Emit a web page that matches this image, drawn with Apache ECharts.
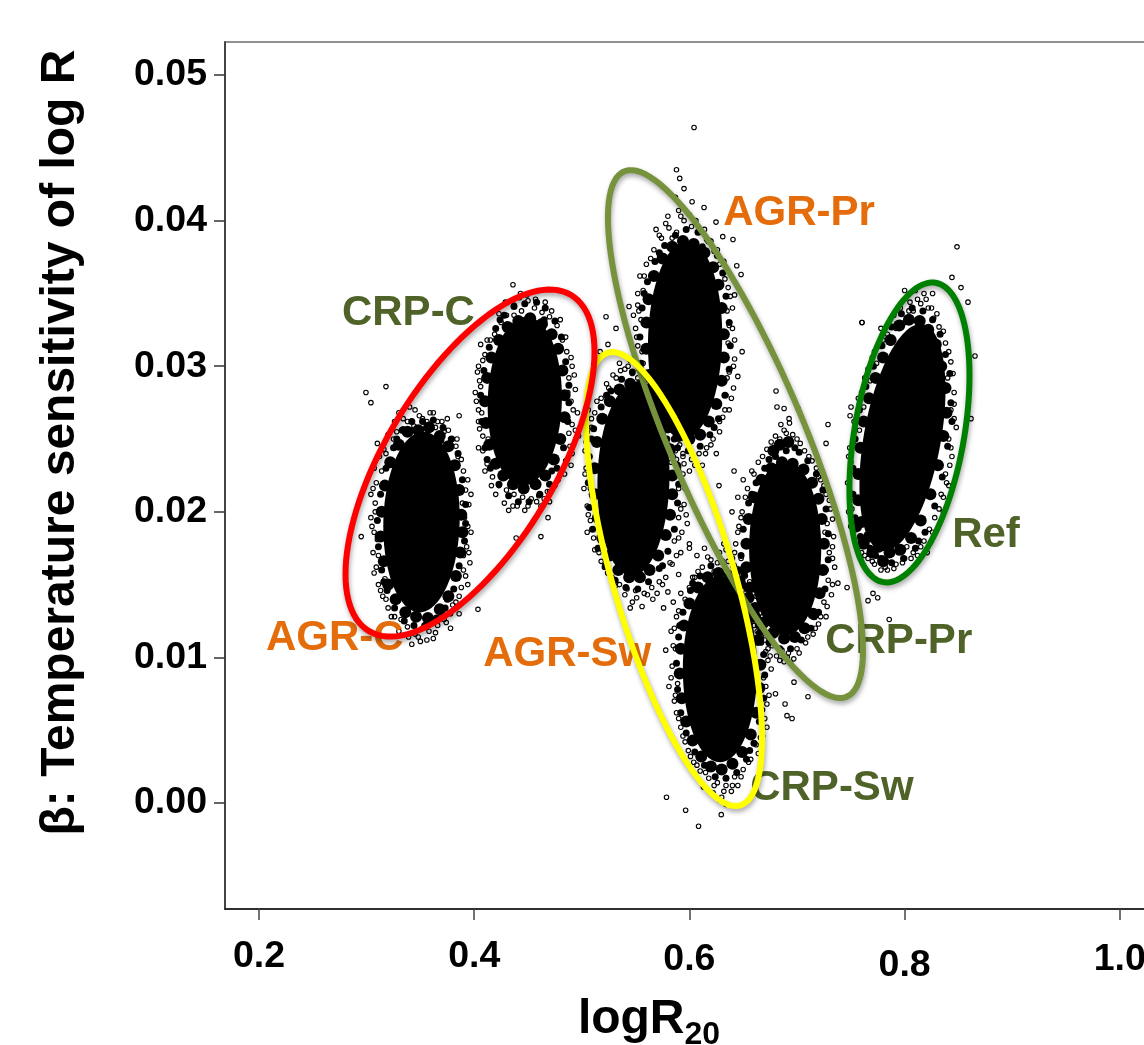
<!DOCTYPE html>
<html><head><meta charset="utf-8">
<style>html,body{margin:0;padding:0;background:#fff;overflow:hidden}#c{width:1144px;height:1045px}</style>
<script src="https://cdn.jsdelivr.net/npm/echarts@6/dist/echarts.min.js"></script>
</head><body><div id="c"></div>
<script>
var xTicks=[0.2,0.4,0.6,0.8,1.0];
var yTicks=[0,0.01,0.02,0.03,0.04,0.05];
var yTickLabels=['0.00','0.01','0.02','0.03','0.04','0.05'];
var clusterNames=['AGR-C','CRP-C','AGR-Pr','AGR-Sw','CRP-Pr','CRP-Sw','Ref'];
var clusterCores=[[.351,.0193,.0355,.0062,.05],[.447,.0276,.0345,.0058,.05],[.596,.0318,.0345,.0068,.05],[.548,.0222,.0335,.0066,.05],[.689,.0175,.0335,.0060,.0],[.6284,.0092,.0345,.0064,.0],[.798,.0251,.0400,.0078,.42]];
var agrCBand=[[.388,.0198],[.386,.0215],[.382,.0232],[.376,.0245],[.368,.0252],[.358,.0258],[.348,.0256],[.338,.0255],[.330,.0246],[.322,.0234],[.317,.0218],[.314,.0200],[.313,.0183],[.316,.0166],[.320,.0150],[.327,.0140],[.336,.0131],[.346,.0128],[.357,.0127],[.368,.0133],[.376,.0142],[.383,.0156],[.387,.0172],[.389,.0186]];
var agrCMid=[[.392,.0205],[.389,.0222],[.385,.0240],[.379,.0250],[.371,.0258],[.362,.0263],[.352,.0262],[.342,.0262],[.333,.0256],[.325,.0244],[.318,.0230],[.313,.0212],[.310,.0194],[.311,.0176],[.314,.0160],[.319,.0146],[.326,.0134],[.335,.0125],[.344,.0122],[.354,.0122],[.365,.0127],[.373,.0134],[.381,.0147],[.386,.0163],[.391,.0180],[.328,.0250],[.375,.0140],[.392,.0192],[.316,.0152],[.369,.0249]];
var agrCDots=[[.330,.0268],[.338,.0262],[.345,.0270],[.352,.0264],[.359,.0268],[.366,.0262],[.340,.0272],[.326,.0262],[.334,.0257],[.344,.0259],[.356,.0262],[.364,.0258],[.372,.0255],[.320,.0253],[.325,.0250],[.378,.0250],[.383,.0245],[.316,.0243],[.385,.0238],[.390,.0228],[.392,.0215],[.395,.0205],[.391,.0196],[.397,.0186],[.393,.0176],[.396,.0165],[.390,.0160],[.394,.0150],[.388,.0148],[.383,.0138],[.378,.0130],[.386,.0130],[.372,.0126],[.366,.0122],[.358,.0118],[.352,.0120],[.345,.0116],[.338,.0121],[.332,.0126],[.326,.0128],[.362,.0113],[.350,.0111],[.342,.0109],[.378,.0120],[.320,.0134],[.315,.0142],[.311,.0150],[.317,.0154],[.309,.0162],[.306,.0172],[.310,.0181],[.305,.0190],[.308,.0200],[.304,.0212],[.309,.0220],[.307,.0230],[.312,.0238],[.310,.0247],[.304,.0275],[.2994,.0282],[.318,.0286],[.295,.0183],[.4035,.0133],[.386,.0266],[.375,.0264],[.334,.0264],[.349,.0266],[.362,.0268],[.328,.0255],[.342,.0256],[.370,.0262],[.376,.0256],[.318,.0240],[.384,.0250],[.388,.0236],[.314,.0228],[.394,.0222],[.306,.0216],[.397,.0212],[.308,.0206],[.389,.0206],[.304,.0196],[.394,.0190],[.307,.0186],[.395,.0172],[.311,.0170],[.390,.0170],[.307,.0158],[.392,.0156],[.313,.0146],[.386,.0142],[.318,.0140],[.380,.0136],[.323,.0128],[.370,.0128],[.330,.0118],[.339,.0114],[.348,.0114],[.356,.0112],[.364,.0117],[.374,.0124]];
var crpCBand=[[.484,.0280],[.482,.0297],[.478,.0312],[.472,.0322],[.463,.0329],[.452,.0333],[.441,.0331],[.431,.0327],[.423,.0318],[.416,.0306],[.412,.0292],[.410,.0276],[.411,.0261],[.414,.0246],[.420,.0233],[.427,.0225],[.436,.0219],[.446,.0216],[.457,.0219],[.466,.0225],[.474,.0236],[.480,.0250],[.484,.0265]];
var crpCMid=[[.488,.0287],[.485,.0303],[.481,.0320],[.475,.0331],[.466,.0340],[.458,.0344],[.447,.0343],[.437,.0341],[.428,.0335],[.420,.0326],[.414,.0313],[.409,.0297],[.406,.0280],[.407,.0262],[.410,.0244],[.415,.0230],[.423,.0219],[.432,.0211],[.441,.0207],[.451,.0207],[.461,.0212],[.470,.0219],[.477,.0230],[.483,.0244],[.487,.0262],[.424,.0332],[.472,.0228],[.488,.0275],[.412,.0236],[.465,.0332]];
var crpCDots=[[.430,.0335],[.437,.0342],[.444,.0338],[.450,.0345],[.456,.0340],[.463,.0337],[.470,.0334],[.425,.0330],[.449,.0349],[.442,.0347],[.477,.0328],[.419,.0322],[.482,.0318],[.486,.0310],[.491,.0300],[.488,.0292],[.494,.0284],[.490,.0276],[.496,.0268],[.491,.0260],[.497,.0252],[.489,.0245],[.485,.0235],[.490,.0232],[.480,.0226],[.475,.0218],[.468,.0214],[.460,.0211],[.453,.0209],[.445,.0210],[.437,.0212],[.430,.0215],[.423,.0218],[.462,.0204],[.447,.0201],[.436,.0204],[.470,.0207],[.417,.0224],[.412,.0233],[.408,.0242],[.413,.0250],[.405,.0257],[.407,.0268],[.402,.0276],[.406,.0286],[.403,.0296],[.408,.0304],[.406,.0315],[.412,.0318],[.436,.0356],[.404,.0262],[.4686,.0196],[.462,.0183],[.439,.0182],[.429,.0344],[.443,.0350],[.457,.0346],[.423,.0336],[.437,.0335],[.466,.0344],[.472,.0338],[.415,.0318],[.480,.0332],[.485,.0320],[.410,.0308],[.490,.0306],[.404,.0300],[.493,.0294],[.405,.0290],[.487,.0282],[.401,.0282],[.492,.0270],[.404,.0270],[.494,.0256],[.408,.0252],[.488,.0254],[.404,.0244],[.491,.0240],[.410,.0228],[.484,.0226],[.416,.0218],[.478,.0222],[.420,.0212],[.470,.0214],[.428,.0206],[.440,.0204],[.450,.0204],[.458,.0207],[.432,.0201],[.465,.0209]];
var agrPrBand=[[.632,.0322],[.630,.0340],[.627,.0356],[.622,.0368],[.614,.0378],[.604,.0384],[.594,.0386],[.584,.0382],[.575,.0374],[.567,.0362],[.562,.0346],[.560,.0330],[.560,.0312],[.562,.0294],[.566,.0280],[.572,.0268],[.580,.0258],[.590,.0252],[.600,.0250],[.610,.0253],[.618,.0262],[.625,.0274],[.630,.0290],[.632,.0306]];
var agrPrMid=[[.637,.0330],[.634,.0348],[.631,.0364],[.626,.0376],[.618,.0386],[.608,.0392],[.597,.0394],[.587,.0390],[.577,.0383],[.568,.0372],[.561,.0358],[.556,.0340],[.554,.0320],[.555,.0302],[.558,.0284],[.563,.0270],[.570,.0258],[.579,.0250],[.589,.0244],[.599,.0242],[.610,.0245],[.619,.0253],[.627,.0264],[.633,.0280],[.637,.0298],[.638,.0314],[.572,.0378],[.623,.0258],[.558,.0350],[.612,.0382]];
var agrPrDots=[[.574,.0388],[.581,.0395],[.588,.0392],[.595,.0400],[.602,.0396],[.609,.0392],[.616,.0387],[.580,.0403],[.590,.0407],[.600,.0404],[.567,.0380],[.623,.0379],[.560,.0370],[.628,.0370],[.569,.0394],[.633,.0360],[.638,.0348],[.635,.0338],[.640,.0326],[.636,.0316],[.642,.0305],[.637,.0296],[.641,.0285],[.634,.0280],[.637,.0270],[.631,.0265],[.628,.0255],[.622,.0250],[.616,.0244],[.609,.0240],[.602,.0236],[.594,.0238],[.587,.0242],[.580,.0246],[.612,.0232],[.600,.0228],[.590,.0231],[.625,.0240],[.573,.0250],[.567,.0258],[.561,.0266],[.557,.0278],[.560,.0288],[.553,.0298],[.556,.0310],[.551,.0320],[.555,.0332],[.552,.0342],[.557,.0352],[.554,.0362],[.548,.0335],[.6043,.0464],[.588,.0435],[.591,.0429],[.595,.0422],[.587,.0416],[.6025,.0413],[.6136,.0409],[.6247,.0399],[.631,.0389],[.6405,.0387],[.644,.0369],[.648,.0363],[.642,.0349],[.649,.0310],[.645,.0293],[.578,.0398],[.592,.0403],[.606,.0400],[.572,.0390],[.584,.0388],[.614,.0394],[.620,.0386],[.564,.0374],[.626,.0380],[.632,.0372],[.558,.0362],[.636,.0354],[.552,.0350],[.640,.0340],[.553,.0338],[.637,.0328],[.550,.0326],[.642,.0318],[.552,.0314],[.641,.0300],[.557,.0302],[.635,.0292],[.552,.0292],[.639,.0278],[.556,.0272],[.633,.0270],[.563,.0262],[.628,.0262],[.569,.0252],[.620,.0246],[.577,.0242],[.585,.0238],[.595,.0233],[.605,.0232],[.615,.0240],[.583,.0234]];
var agrSwBand=[[.584,.0225],[.582,.0243],[.579,.0259],[.573,.0271],[.565,.0281],[.555,.0287],[.545,.0288],[.535,.0284],[.526,.0276],[.519,.0264],[.514,.0248],[.512,.0230],[.512,.0212],[.515,.0196],[.519,.0182],[.526,.0170],[.534,.0160],[.544,.0155],[.554,.0155],[.563,.0160],[.571,.0170],[.578,.0184],[.582,.0198],[.584,.0212]];
var agrSwMid=[[.589,.0232],[.586,.0250],[.583,.0266],[.577,.0277],[.568,.0288],[.558,.0294],[.547,.0296],[.537,.0291],[.527,.0283],[.518,.0272],[.511,.0257],[.507,.0238],[.506,.0220],[.507,.0203],[.510,.0188],[.515,.0175],[.522,.0163],[.531,.0153],[.541,.0148],[.552,.0147],[.562,.0152],[.572,.0161],[.580,.0173],[.586,.0188],[.589,.0206],[.590,.0219],[.523,.0280],[.575,.0163],[.509,.0250],[.563,.0286]];
var agrSwDots=[[.525,.0285],[.532,.0292],[.540,.0298],[.547,.0295],[.555,.0300],[.562,.0292],[.570,.0286],[.535,.0302],[.545,.0304],[.518,.0278],[.577,.0278],[.512,.0268],[.583,.0268],[.587,.0258],[.591,.0246],[.588,.0236],[.594,.0226],[.590,.0216],[.595,.0205],[.590,.0196],[.593,.0186],[.586,.0180],[.588,.0170],[.582,.0165],[.578,.0155],[.600,.0175],[.598,.0192],[.572,.0152],[.565,.0148],[.558,.0144],[.550,.0146],[.542,.0147],[.535,.0150],[.528,.0155],[.566,.0140],[.556,.0135],[.547,.0138],[.580,.0145],[.590,.0157],[.576,.0134],[.521,.0162],[.516,.0172],[.511,.0182],[.508,.0194],[.505,.0204],[.508,.0216],[.503,.0226],[.507,.0238],[.504,.0248],[.509,.0258],[.506,.0270],[.5225,.0334],[.5318,.0326],[.5243,.0315],[.517,.0310],[.5439,.0341],[.6415,.0228],[.6396,.0200],[.6275,.0218],[.529,.0294],[.543,.0300],[.557,.0296],[.523,.0288],[.536,.0297],[.566,.0291],[.574,.0284],[.514,.0276],[.581,.0276],[.586,.0264],[.509,.0264],[.592,.0252],[.505,.0255],[.594,.0240],[.503,.0242],[.590,.0228],[.504,.0230],[.596,.0216],[.502,.0216],[.592,.0202],[.506,.0198],[.597,.0198],[.505,.0186],[.590,.0182],[.512,.0174],[.592,.0172],[.518,.0166],[.584,.0164],[.524,.0158],[.575,.0150],[.531,.0149],[.540,.0143],[.551,.0141],[.561,.0143],[.570,.0144],[.545,.0134]];
var crpPrBand=[[.725,.0178],[.723,.0195],[.720,.0209],[.714,.0220],[.706,.0229],[.696,.0233],[.686,.0234],[.676,.0230],[.667,.0222],[.660,.0210],[.655,.0195],[.653,.0178],[.653,.0162],[.656,.0148],[.661,.0134],[.669,.0124],[.678,.0117],[.688,.0113],[.698,.0114],[.707,.0120],[.715,.0130],[.721,.0144],[.724,.0160],[.684,.0246],[.692,.0248],[.678,.0242]];
var crpPrMid=[[.729,.0185],[.727,.0202],[.724,.0215],[.718,.0226],[.710,.0235],[.702,.0241],[.690,.0242],[.680,.0238],[.670,.0230],[.662,.0220],[.655,.0206],[.650,.0188],[.648,.0170],[.649,.0154],[.652,.0140],[.658,.0127],[.665,.0117],[.674,.0110],[.684,.0106],[.694,.0106],[.704,.0112],[.713,.0120],[.720,.0131],[.726,.0147],[.729,.0167],[.716,.0128],[.658,.0212],[.674,.0236],[.698,.0244],[.664,.0122]];
var crpPrDots=[[.672,.0243],[.680,.0252],[.688,.0256],[.696,.0253],[.703,.0247],[.711,.0238],[.664,.0234],[.685,.0260],[.718,.0230],[.660,.0226],[.654,.0216],[.693,.0261],[.722,.0222],[.727,.0212],[.731,.0202],[.728,.0192],[.734,.0183],[.730,.0172],[.735,.0162],[.729,.0153],[.732,.0143],[.725,.0138],[.727,.0128],[.720,.0123],[.715,.0116],[.708,.0110],[.700,.0106],[.692,.0103],[.684,.0105],[.677,.0108],[.670,.0112],[.663,.0118],[.697,.0099],[.688,.0097],[.675,.0101],[.657,.0124],[.651,.0134],[.649,.0146],[.645,.0156],[.648,.0168],[.643,.0178],[.646,.0190],[.649,.0200],[.645,.0210],[.650,.0222],[.6805,.0283],[.6814,.0272],[.688,.0271],[.7009,.0271],[.6926,.0264],[.7288,.0260],[.727,.0247],[.7604,.0330],[.738,.0151],[.7465,.0148],[.733,.0176],[.766,.0139],[.775,.0141],[.7857,.0126],[.7102,.0073],[.6889,.0068],[.6907,.0060],[.6954,.0058],[.6972,.0083],[.668,.0238],[.676,.0248],[.684,.0250],[.690,.0254],[.700,.0250],[.707,.0242],[.714,.0235],[.658,.0228],[.720,.0224],[.725,.0218],[.652,.0210],[.730,.0208],[.648,.0196],[.733,.0195],[.645,.0186],[.726,.0186],[.642,.0172],[.733,.0168],[.646,.0160],[.727,.0160],[.648,.0152],[.733,.0150],[.650,.0140],[.728,.0135],[.654,.0130],[.722,.0128],[.660,.0122],[.717,.0120],[.667,.0114],[.710,.0114],[.673,.0106],[.681,.0101],[.691,.0100],[.702,.0103],[.694,.0096],[.684,.0098]];
var crpSwBand=[[.666,.0095],[.664,.0112],[.661,.0128],[.655,.0141],[.647,.0151],[.637,.0156],[.627,.0158],[.617,.0155],[.608,.0148],[.600,.0137],[.595,.0122],[.592,.0106],[.591,.0089],[.593,.0072],[.597,.0056],[.603,.0043],[.611,.0032],[.620,.0025],[.630,.0023],[.640,.0027],[.649,.0035],[.657,.0047],[.662,.0062],[.665,.0079]];
var crpSwMid=[[.669,.0102],[.668,.0118],[.665,.0134],[.659,.0147],[.651,.0157],[.641,.0163],[.630,.0166],[.620,.0163],[.610,.0156],[.601,.0146],[.594,.0131],[.590,.0114],[.588,.0096],[.589,.0078],[.592,.0062],[.597,.0048],[.605,.0035],[.614,.0026],[.624,.0018],[.634,.0017],[.644,.0021],[.653,.0030],[.660,.0041],[.665,.0056],[.669,.0072],[.670,.0088],[.603,.0151],[.656,.0036],[.591,.0122],[.647,.0160]];
var crpSwDots=[[.605,.0155],[.612,.0162],[.620,.0167],[.628,.0172],[.636,.0166],[.644,.0161],[.652,.0156],[.600,.0148],[.623,.0159],[.614,.0175],[.607,.0170],[.632,.0178],[.600,.0178],[.660,.0148],[.665,.0136],[.670,.0122],[.667,.0110],[.673,.0098],[.669,.0086],[.674,.0074],[.668,.0064],[.672,.0052],[.666,.0045],[.664,.0034],[.680,.0075],[.686,.0105],[.657,.0030],[.650,.0023],[.642,.0018],[.634,.0012],[.626,.0014],[.618,.0017],[.610,.0022],[.639,.0008],[.630,.0004],[.622,.0007],[.645,.0012],[.613,.0011],[.634,-.0001],[.604,.0028],[.599,.0036],[.594,.0046],[.590,.0058],[.586,.0070],[.589,.0082],[.584,.0094],[.587,.0106],[.583,.0118],[.588,.0128],[.585,.0138],[.592,.0144],[.578,.0105],[.581,.0080],[.5787,.0004],[.6085,-.0016],[.5965,-.0005],[.6296,-.0008],[.608,.0159],[.617,.0169],[.626,.0165],[.634,.0174],[.640,.0168],[.648,.0159],[.656,.0152],[.603,.0155],[.662,.0142],[.668,.0128],[.596,.0140],[.672,.0116],[.590,.0132],[.671,.0104],[.586,.0120],[.676,.0092],[.585,.0108],[.671,.0080],[.583,.0086],[.672,.0068],[.587,.0074],[.670,.0058],[.588,.0062],[.668,.0046],[.592,.0052],[.662,.0040],[.596,.0042],[.655,.0028],[.601,.0032],[.648,.0018],[.607,.0026],[.615,.0021],[.623,.0012],[.632,.0008],[.640,.0012],[.628,.0002]];
var refBand=[[.838,.0285],[.834,.0300],[.829,.0315],[.822,.0325],[.814,.0331],[.804,.0332],[.795,.0328],[.787,.0318],[.780,.0306],[.773,.0292],[.767,.0278],[.762,.0262],[.759,.0244],[.757,.0226],[.757,.0208],[.760,.0193],[.767,.0183],[.776,.0176],[.786,.0172],[.796,.0174],[.806,.0182],[.815,.0194],[.824,.0212],[.831,.0232],[.836,.0252],[.839,.0268],[.770,.0172],[.780,.0166],[.762,.0178],[.755,.0190]];
var refMid=[[.842,.0295],[.838,.0308],[.833,.0322],[.826,.0332],[.817,.0338],[.807,.0340],[.797,.0336],[.788,.0327],[.779,.0314],[.771,.0300],[.764,.0286],[.758,.0270],[.754,.0250],[.752,.0230],[.752,.0212],[.754,.0196],[.759,.0183],[.768,.0175],[.778,.0168],[.788,.0165],[.799,.0168],[.810,.0175],[.819,.0186],[.828,.0204],[.835,.0224],[.840,.0245],[.843,.0275],[.773,.0170],[.813,.0180],[.844,.0262]];
var refDots=[[.792,.0326],[.800,.0330],[.808,.0338],[.815,.0343],[.822,.0340],[.827,.0333],[.787,.0316],[.818,.0350],[.805,.0344],[.810,.0352],[.796,.0340],[.826,.0350],[.800,.0352],[.790,.0335],[.832,.0327],[.838,.0316],[.843,.0303],[.840,.0292],[.846,.0282],[.843,.0270],[.848,.0258],[.841,.0250],[.844,.0238],[.838,.0226],[.841,.0218],[.834,.0212],[.836,.0200],[.828,.0196],[.826,.0186],[.818,.0180],[.821,.0172],[.812,.0170],[.806,.0168],[.798,.0165],[.790,.0161],[.784,.0160],[.778,.0160],[.772,.0164],[.766,.0168],[.794,.0172],[.802,.0176],[.760,.0172],[.755,.0180],[.750,.0190],[.748,.0200],[.752,.0210],[.747,.0220],[.751,.0228],[.748,.0238],[.753,.0246],[.758,.0256],[.755,.0264],[.762,.0272],[.760,.0282],[.768,.0290],[.766,.0298],[.774,.0302],[.772,.0310],[.780,.0318],[.778,.0326],[.8487,.0382],[.844,.0361],[.8524,.0354],[.8589,.0344],[.7604,.0330],[.8654,.0307],[.8617,.0264],[.7502,.0272],[.7493,.0266],[.7706,.0144],[.796,.0330],[.804,.0338],[.812,.0346],[.820,.0346],[.825,.0340],[.830,.0336],[.784,.0322],[.836,.0324],[.776,.0314],[.841,.0310],[.770,.0306],[.845,.0295],[.763,.0292],[.846,.0274],[.757,.0278],[.846,.0264],[.753,.0262],[.843,.0244],[.749,.0244],[.842,.0232],[.750,.0234],[.839,.0220],[.749,.0214],[.836,.0210],[.751,.0202],[.832,.0202],[.752,.0186],[.823,.0188],[.757,.0176],[.815,.0176],[.763,.0170],[.808,.0172],[.770,.0166],[.782,.0162],[.792,.0164],[.800,.0168]];
var clusterBands=[agrCBand,crpCBand,agrPrBand,agrSwBand,crpPrBand,crpSwBand,refBand];
var clusterMids=[agrCMid,crpCMid,agrPrMid,agrSwMid,crpPrMid,crpSwMid,refMid];
var clusterDots=[agrCDots,crpCDots,agrPrDots,agrSwDots,crpPrDots,crpSwDots,refDots];
var outlines=[[.6428,.02534,.1185,.01813,-.82],[.5857,.01538,.0818,.01559,-.70],[.3961,.02335,.1157,.01192,.64],[.8045,.02545,.0558,.0103,.38]];
var outlineColors=['#76923C','#FFFF00','#FF0000','#008000'];
var labelTexts=['AGR-Pr','CRP-C','AGR-C','AGR-Sw','CRP-Pr','CRP-Sw','Ref'];
var labelX=[.6314,.2771,.2065,.4083,.7262,.6565,.8442];
var labelY=[.0405,.0336,.0113,.0102,.0111,.0010,.0184];
var labelColors=['#E46C0A','#4F6228','#E46C0A','#E46C0A','#4F6228','#4F6228','#4F6228'];

var FONT='"Liberation Sans",Arial,sans-serif';
function ellipsePts(api,r){
  var pts=[],phi=Math.acos(r[4]);
  for(var i=0;i<120;i++){
    var t=i/120*Math.PI*2;
    pts.push(api.coord([r[0]+r[2]*Math.cos(t),r[1]+r[3]*Math.cos(t-phi)]));
  }
  return pts;
}
var series=[{
  type:'custom',name:'cores',z:2,silent:true,clip:false,data:clusterCores,encode:{x:0,y:1},
  renderItem:function(p,api){
    var r=clusterCores[p.dataIndex];
    return {type:'polygon',shape:{points:ellipsePts(api,r)},style:{fill:'#000',stroke:null}};
  }
}];
clusterNames.forEach(function(n,i){
  series.push({type:'scatter',name:n+' dense',z:3,silent:true,data:clusterBands[i],symbol:'circle',symbolSize:12,itemStyle:{color:'#000',opacity:1}});
  series.push({type:'scatter',name:n+' mid',z:3,silent:true,data:clusterMids[i],symbol:'circle',symbolSize:7,itemStyle:{color:'#000',opacity:1}});
  series.push({type:'scatter',name:n,z:4,silent:true,data:clusterDots[i],symbol:'circle',symbolSize:4.5,itemStyle:{color:'rgba(255,255,255,0)',borderColor:'#000',borderWidth:1.1,opacity:1}});
});
series.push({
  type:'custom',name:'labels',z:5,silent:true,clip:false,
  data:labelTexts.map(function(t,i){return [labelX[i],labelY[i]];}),encode:{x:0,y:1},
  renderItem:function(p,api){
    var c=api.coord([labelX[p.dataIndex],labelY[p.dataIndex]]);
    return {type:'text',x:c[0],y:c[1],style:{text:labelTexts[p.dataIndex],fill:labelColors[p.dataIndex],font:'bold 42px '+FONT,textAlign:'left',textVerticalAlign:'middle'}};
  }
});
series.push({
  type:'custom',name:'ellipses',z:6,silent:true,clip:false,data:outlines,encode:{x:0,y:1},
  renderItem:function(p,api){
    var r=outlines[p.dataIndex];
    return {type:'polygon',shape:{points:ellipsePts(api,r)},style:{fill:'none',stroke:outlineColors[p.dataIndex],lineWidth:6,shadowBlur:5,shadowColor:'rgba(0,0,0,0.35)',shadowOffsetX:1,shadowOffsetY:3}};
  }
});
var chart=echarts.init(document.getElementById('c'),null,{renderer:'canvas'});
chart.setOption({
  animation:false,backgroundColor:'#fff',tooltip:{show:false},legend:{show:false},
  grid:{show:true,left:225,top:42,width:930,height:867,borderColor:'#222',borderWidth:1,backgroundColor:'#fff',containLabel:false,outerBoundsMode:'none'},
  xAxis:{type:'value',min:.1684,max:1.0327,splitLine:{show:false},
    axisLine:{show:true,onZero:false,lineStyle:{color:'#111',width:1.5}},
    axisTick:{show:true,length:11,customValues:xTicks,lineStyle:{color:'#444',width:1.5}},
    axisLabel:{show:true,margin:29,customValues:xTicks,hideOverlap:false,showMinLabel:true,showMaxLabel:true,
      formatter:function(v){var s=v.toFixed(1);return s==='0.8'?'{low|'+s+'}':s==='0.6'?'{mid|'+s+'}':s==='1.0'?'{mid|'+s+'}':'{base|'+s+'}';},
      fontFamily:FONT,fontWeight:'bold',fontSize:37.5,color:'#000',
      rich:{base:{fontFamily:FONT,fontWeight:'bold',fontSize:37.5,color:'#000'},
            mid:{fontFamily:FONT,fontWeight:'bold',fontSize:37.5,color:'#000',padding:[3,0,0,0]},
            low:{fontFamily:FONT,fontWeight:'bold',fontSize:37.5,color:'#000',padding:[9,0,0,0]}}},
    name:'logR{s|20}',nameLocation:'middle',nameGap:80,
    nameTextStyle:{fontFamily:FONT,fontWeight:'bold',fontSize:48,color:'#000',padding:[0,82,0,0],
      rich:{s:{fontFamily:FONT,fontWeight:'bold',fontSize:32,color:'#000',padding:[30,0,0,0]}}}},
  yAxis:{type:'value',min:-.00728,max:.05227,splitLine:{show:false},
    axisLine:{show:true,onZero:false,lineStyle:{color:'#444',width:2}},
    axisTick:{show:true,length:11,customValues:yTicks,lineStyle:{color:'#333',width:1.5}},
    axisLabel:{show:true,margin:18,customValues:yTicks,showMinLabel:true,showMaxLabel:true,
      formatter:function(v){return yTickLabels[Math.round(v*100)];},
      fontFamily:FONT,fontWeight:'bold',fontSize:37.5,color:'#000'},
    name:'β: Temperature sensitivity of log R',nameLocation:'middle',nameGap:140,
    nameTextStyle:{fontFamily:FONT,fontWeight:'bold',fontSize:48,color:'#000',padding:[0,0,0,66]}},
  series:series
});
</script></body></html>
